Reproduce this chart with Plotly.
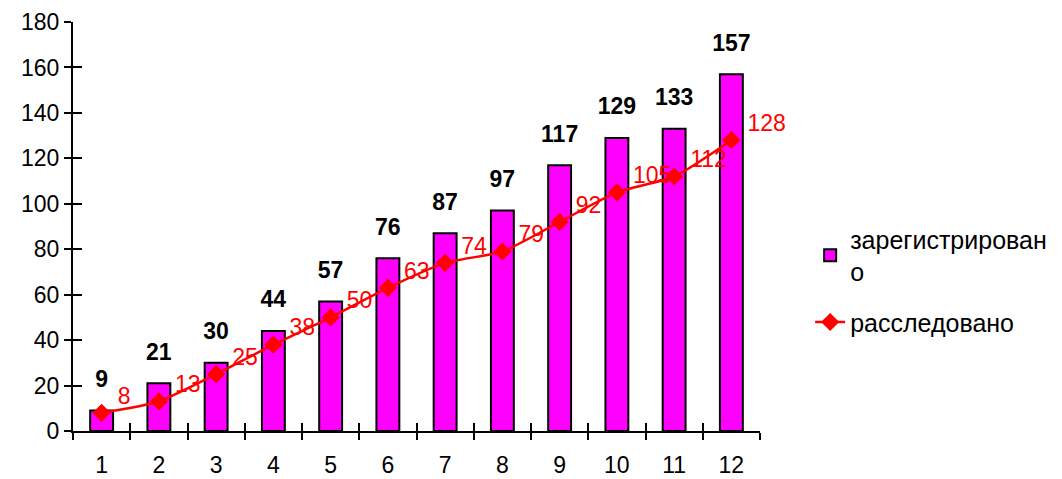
import plotly.graph_objects as go

categories = ["1", "2", "3", "4", "5", "6", "7", "8", "9", "10", "11", "12"]
registered = [9, 21, 30, 44, 57, 76, 87, 97, 117, 129, 133, 157]
investigated = [8, 13, 25, 38, 50, 63, 74, 79, 92, 105, 112, 128]
y_ticks = [0, 20, 40, 60, 80, 100, 120, 140, 160, 180]

FONT = "Arial, Liberation Sans, sans-serif"

fig = go.Figure()
fig.add_trace(go.Bar(
    x=categories, y=registered, name="зарегистрирован<br>о", legendgroup="a",
    marker=dict(color="#FF00FF", line=dict(color="black", width=2)),
))
fig.add_trace(go.Scatter(
    x=categories, y=investigated, name="расследовано", mode="lines+markers",
    legendgroup="b",
    line=dict(color="red", width=2.5, shape="spline", smoothing=0.6),
    marker=dict(symbol="diamond", size=14, color="red"),
    cliponaxis=False,
))
# value labels for bars
fig.add_trace(go.Scatter(
    x=categories, y=registered, mode="markers+text", showlegend=False,
    marker=dict(size=27, color="rgba(0,0,0,0)"),
    text=[f"<b>{v}</b>" for v in registered], textposition="top center",
    textfont=dict(family=FONT, size=23, color="black"),
    cliponaxis=False, hoverinfo="skip",
))
# value labels for line
fig.add_trace(go.Scatter(
    x=categories, y=investigated, mode="markers+text", showlegend=False,
    marker=dict(size=24, color="rgba(0,0,0,0)"),
    text=[f"{v}<br> " for v in investigated], textposition="middle right",
    textfont=dict(family=FONT, size=23, color="red"),
    cliponaxis=False, hoverinfo="skip",
))
# invisible helper trace so the overlay axes (inner tick halves) are drawn
fig.add_trace(go.Scatter(x=categories, y=registered, xaxis="x2", yaxis="y2",
                         showlegend=False, hoverinfo="skip", mode="markers",
                         marker=dict(size=1, opacity=0)))
fig.update_layout(
    width=1062, height=479,
    margin=dict(l=65, r=310, t=14, b=56),
    paper_bgcolor="white", plot_bgcolor="white",
    bargap=0.6,
    font=dict(family=FONT, size=23, color="black"),
    legend=dict(x=1.073, y=0.525, yanchor="top", xanchor="left",
                font=dict(size=25), tracegroupgap=15),
    xaxis=dict(range=[-0.5, 11.5], showline=True, linecolor="black", linewidth=2,
               ticks="outside", tickson="boundaries", ticklen=7,
               tickwidth=2, tickcolor="black", showgrid=False,
               ticklabelstandoff=12, automargin=False),
    yaxis=dict(range=[0, 180], tickvals=y_ticks, showline=True,
               linecolor="black", linewidth=2, ticks="outside", ticklen=7,
               tickwidth=2, tickcolor="black", showgrid=False, zeroline=False,
               automargin=False),
    xaxis2=dict(overlaying="x", anchor="y", type="category", range=[-0.5, 11.5],
                showline=False, ticks="inside", tickson="boundaries", ticklen=8,
                tickwidth=2, tickcolor="black", showticklabels=False, showgrid=False,
                zeroline=False, automargin=False),
    yaxis2=dict(overlaying="y", anchor="x", range=[0, 180], tickvals=y_ticks,
                ticks="inside", ticklen=9, tickwidth=2, tickcolor="black",
                showticklabels=False, showgrid=False, zeroline=False, showline=False,
                side="left", automargin=False),
)
fig.write_html("out.html")
